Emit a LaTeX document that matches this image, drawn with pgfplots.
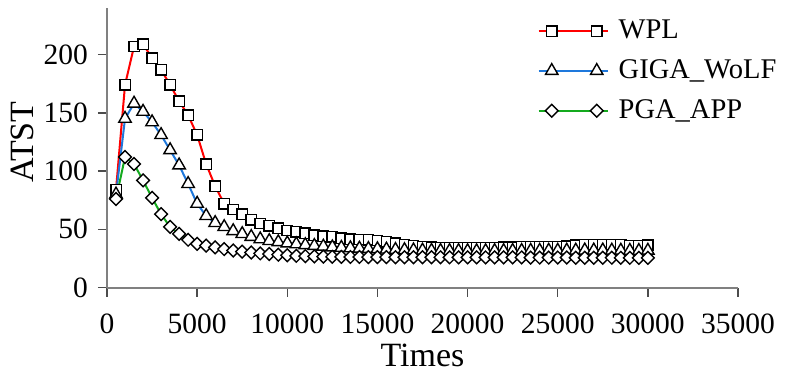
\documentclass[border=0pt]{standalone}
\usepackage{pgfplots}
\pgfplotsset{compat=1.18}
\usepackage{pgfplotstable}
\usepackage{fontspec}
\setmainfont{Liberation Serif}
\definecolor{cred}{RGB}{255,0,0}
\definecolor{cblue}{RGB}{30,120,220}
\definecolor{cgreen}{RGB}{20,170,30}
\pgfplotstableread{
x wpl giga pga
500 84 80 76
1000 174 145 112
1500 207 158 106
2000 209 151 92
2500 197 142 77
3000 187 131 63
3500 174 118 52
4000 160 105 46
4500 148 89 41
5000 131 72 37.5
5500 106 61.5 36
6000 87 55.5 34.5
6500 72 52 33
7000 67 48.5 31.8
7500 63 46 30.8
8000 58 43.5 30
8500 55 41.5 29.3
9000 53 40 28.8
9500 51 39 28.2
10000 49 38 27.7
10500 48 37.2 27.2
11000 46.5 36.5 26.9
11500 45 35.8 26.7
12000 44 35.2 26.5
12500 43.4 34.6 26.4
13000 42.3 34.2 26.3
13500 41.4 33.8 26.2
14000 41.2 33.5 26.2
14500 40.9 33.2 26.1
15000 40.3 33 26.1
15500 39.2 32.7 26.1
16000 38 32.4 26
16500 37 32.2 26
17000 35.8 32 26
17500 35.1 31.8 26
18000 34.6 31.6 26
18500 34.3 31.5 25.9
19000 34.3 31.4 25.9
19500 34 31.4 25.9
20000 34 31.3 25.9
20500 34 31.3 25.9
21000 34 31.3 25.8
21500 34.3 31.4 25.8
22000 34.5 31.4 25.8
22500 34.6 31.5 25.8
23000 34.8 31.5 25.8
23500 34.9 31.6 25.7
24000 35 31.6 25.7
24500 35 31.7 25.7
25000 35.2 31.7 25.7
25500 35.6 31.8 25.7
26000 36.3 31.8 25.6
26500 36.8 31.9 25.6
27000 37 31.9 25.6
27500 37 31.9 25.6
28000 36.9 31.8 25.6
28500 36.5 31.7 25.5
29000 36 31.6 25.5
29500 35.8 31.5 25.5
30000 36.3 31.7 25.5
}\data
\begin{document}
\begin{tikzpicture}
\useasboundingbox (0,0) rectangle (400pt,186pt);
\begin{axis}[
  at={(53.5pt,42.25pt)}, anchor=south west,
  scale only axis, width=315.5pt, height=139.75pt,
  xmin=0, xmax=35000, ymin=0, ymax=240,
  axis lines=left,
  axis line style={-, draw=black!50, line width=1pt},
  xtick={0,5000,...,35000}, ytick={0,50,...,200},
  tick align=outside, major tick length=4.5pt,
  tick style={black!70, line width=0.7pt},
  scaled ticks=false,
  /pgf/number format/1000 sep={},
  /pgf/number format/assume math mode=true,
  tick label style={font=\fontsize{14.75}{16}\selectfont},
  xticklabel style={yshift=-5pt},
  yticklabel style={xshift=-1.5pt},
  label style={font=\fontsize{17}{20}\selectfont},
  xlabel={Times}, ylabel={ATST},
  xlabel style={at={(axis description cs:0.5,-0.281)}, anchor=base, inner sep=0pt},
  ylabel style={at={(axis description cs:-0.1347,0.52)}, anchor=center, inner sep=0pt},
  legend style={at={(axis description cs:0.682,0.972)}, anchor=north west,
    draw=none, fill=none, inner sep=0pt, row sep=5pt, column sep=3pt,
    font=\fontsize{14.25}{16}\selectfont, cells={anchor=west}},
  legend image code/.code={\draw[#1, mark indices={2,3}] plot coordinates {(0pt,0pt) (6.5pt,0pt) (29pt,0pt) (34.5pt,0pt)};},
]
\addplot[cred, line width=1pt, mark=square*, mark size=2.6pt,
  mark options={solid, fill=white, draw=black, line width=0.7pt}] table[x=x,y=wpl]{\data};
\addlegendentry{WPL}
\addplot[cblue, line width=1pt, mark=triangle*, mark size=3.6pt,
  mark options={solid, fill=white, draw=black, line width=0.7pt}] table[x=x,y=giga]{\data};
\addlegendentry{GIGA\_WoLF}
\addplot[cgreen, line width=1pt, mark=square*, mark size=2.25pt,
  mark options={solid, rotate=45, fill=white, draw=black, line width=0.7pt}] table[x=x,y=pga]{\data};
\addlegendentry{PGA\_APP}
\end{axis}
\end{tikzpicture}
\end{document}
